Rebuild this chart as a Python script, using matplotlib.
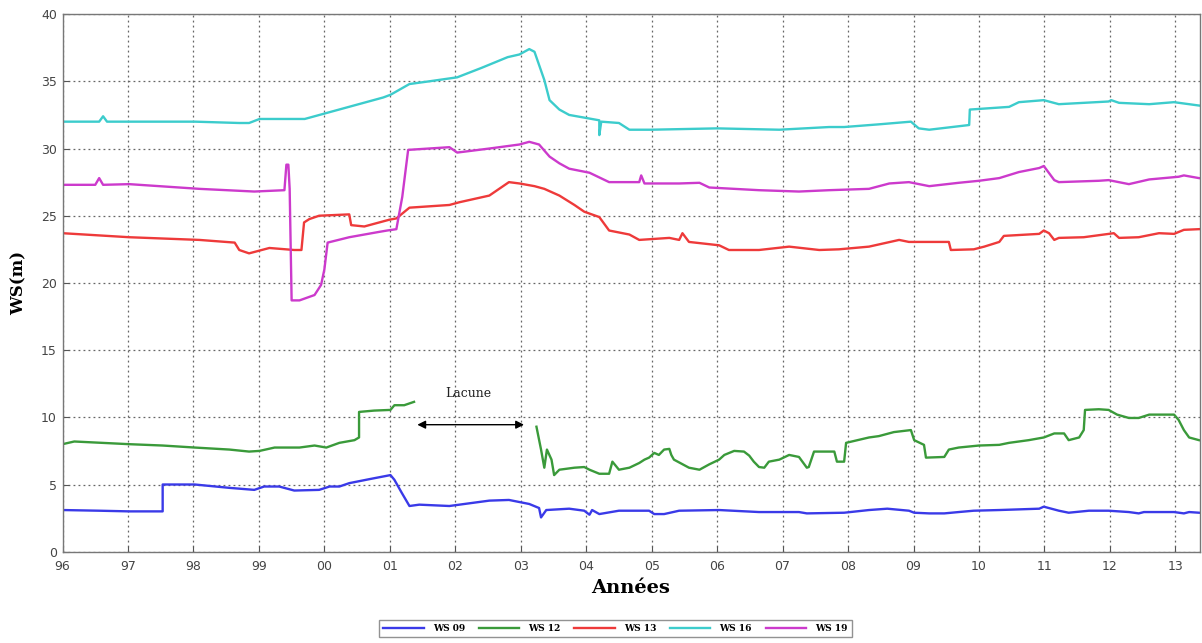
import matplotlib
matplotlib.use("Agg")
import matplotlib.pyplot as plt

# Time axis: years since start of 1996
xtick_labels = ["96", "97", "98", "99", "00", "01", "02", "03", "04", "05",
                "06", "07", "08", "09", "10", "11", "12", "13"]

ws09_t = [0, 0.56, 1.02, 1.53, 1.53, 2.02, 2.55, 2.93, 3.08, 3.31, 3.54, 3.92, 4.08, 4.23, 4.38, 4.69,
          5.01, 5.07, 5.18, 5.30, 5.45, 5.91, 6.52, 6.82, 7.13, 7.28, 7.31, 7.39, 7.74, 7.97, 8.05, 8.09,
          8.20, 8.50, 8.96, 9.04, 9.19, 9.42, 10.03, 10.64, 11.25, 11.37, 11.94, 12.32, 12.60, 12.93,
          13.01, 13.24, 13.47, 13.69, 13.92, 14.31, 14.92, 14.99, 15.22, 15.37, 15.68, 15.98, 16.29,
          16.44, 16.52, 16.98, 17.13, 17.21, 17.36]
ws09_v = [3.1, 3.05, 3.0, 3.0, 5.0, 5.0, 4.75, 4.6, 4.85, 4.85, 4.55, 4.6, 4.85, 4.85, 5.1, 5.4,
          5.7, 5.35, 4.4, 3.4, 3.5, 3.4, 3.8, 3.85, 3.55, 3.25, 2.55, 3.1, 3.2, 3.05, 2.75, 3.1,
          2.8, 3.05, 3.05, 2.8, 2.8, 3.05, 3.1, 2.95, 2.95, 2.85, 2.9, 3.1, 3.2, 3.05,
          2.9, 2.85, 2.85, 2.95, 3.05, 3.1, 3.2, 3.35, 3.05, 2.9, 3.05, 3.05, 2.95,
          2.85, 2.95, 2.95, 2.85, 2.95, 2.9]

# WS 12 before the gap ("Lacune")
ws12a_t = [0, 0.18, 1.02, 1.53, 2.02, 2.55, 2.85, 3.01, 3.24, 3.62, 3.85, 4.03, 4.23, 4.46, 4.53,
           4.53, 4.76, 5.01, 5.07, 5.22, 5.37]
ws12a_v = [8.0, 8.2, 8.0, 7.9, 7.75, 7.6, 7.45, 7.5, 7.75, 7.75, 7.9, 7.75, 8.1, 8.3, 8.5,
           10.4, 10.5, 10.55, 10.9, 10.9, 11.15]
# WS 12 after the gap
ws12b_t = [7.24, 7.31, 7.36, 7.40, 7.47, 7.51, 7.59, 7.82, 7.97, 8.05, 8.20, 8.35, 8.40, 8.50, 8.66,
           8.81, 8.89, 8.96, 9.04, 9.11, 9.19, 9.27, 9.30, 9.34, 9.57, 9.73, 9.88, 10.03, 10.11,
           10.26, 10.41, 10.49, 10.56, 10.64, 10.72, 10.79, 10.95, 11.10, 11.25, 11.37, 11.40,
           11.48, 11.79, 11.83, 11.94, 11.97, 12.32, 12.47, 12.70, 12.96, 13.01, 13.16, 13.19,
           13.47, 13.54, 13.69, 14.0, 14.31, 14.46, 14.76, 14.99, 15.15, 15.30, 15.37, 15.53,
           15.60, 15.62, 15.83, 15.98, 16.11, 16.29, 16.44, 16.60, 16.98, 17.05, 17.13, 17.21, 17.36]
ws12b_v = [9.3, 7.6, 6.25, 7.6, 6.85, 5.7, 6.1, 6.25, 6.3, 6.1, 5.8, 5.8, 6.7, 6.1, 6.25,
           6.6, 6.85, 7.0, 7.35, 7.2, 7.6, 7.65, 7.2, 6.85, 6.25, 6.1, 6.5, 6.85, 7.2,
           7.5, 7.45, 7.15, 6.7, 6.3, 6.25, 6.7, 6.85, 7.2, 7.05, 6.25, 6.3,
           7.45, 7.45, 6.7, 6.7, 8.1, 8.5, 8.6, 8.9, 9.05, 8.3, 7.95, 7.0,
           7.05, 7.6, 7.75, 7.9, 7.95, 8.1, 8.3, 8.5, 8.8, 8.8, 8.3, 8.5,
           9.05, 10.55, 10.6, 10.55, 10.2, 9.95, 9.95, 10.2, 10.2, 9.8, 9.05, 8.5, 8.3]

ws13_t = [0, 1.02, 2.09, 2.63, 2.70, 2.85, 3.16, 3.54, 3.65, 3.69, 3.77, 3.92, 4.38, 4.41, 4.61,
          4.99, 5.10, 5.30, 5.91, 6.06, 6.52, 6.82, 6.98, 7.21, 7.36, 7.59, 7.82, 7.97, 8.20, 8.35,
          8.66, 8.81, 9.27, 9.42, 9.47, 9.57, 10.03, 10.18, 10.64, 11.10, 11.56, 11.86, 12.32,
          12.78, 12.93, 13.54, 13.57, 13.92, 14.08, 14.31, 14.38, 14.92, 14.99, 15.07, 15.15,
          15.22, 15.60, 16.06, 16.14, 16.44, 16.75, 16.98, 17.13, 17.36]
ws13_v = [23.7, 23.4, 23.2, 23.0, 22.45, 22.2, 22.6, 22.45, 22.45, 24.5, 24.75, 25.0, 25.1, 24.3, 24.2,
          24.7, 24.8, 25.6, 25.8, 26.0, 26.5, 27.5, 27.4, 27.2, 27.0, 26.5, 25.8, 25.3, 24.9, 23.9,
          23.6, 23.2, 23.35, 23.2, 23.7, 23.05, 22.8, 22.45, 22.45, 22.7, 22.45, 22.5, 22.7,
          23.2, 23.05, 23.05, 22.45, 22.5, 22.7, 23.05, 23.5, 23.65, 23.9, 23.7, 23.2,
          23.35, 23.4, 23.7, 23.35, 23.4, 23.7, 23.65, 23.95, 24.0]

ws16_t = [0, 0.56, 0.62, 0.68, 1.02, 2.02, 2.70, 2.85, 3.01, 3.70, 4.30, 4.90, 5.01, 5.30, 5.60,
          6.03, 6.40, 6.80, 6.98, 7.13, 7.21, 7.36, 7.44, 7.59, 7.74, 8.20, 8.20, 8.23, 8.50,
          8.66, 8.99, 10.0, 10.95, 11.71, 11.94, 12.47, 12.96, 13.08, 13.24, 13.85, 13.86,
          14.46, 14.61, 14.99, 15.22, 15.98, 16.02, 16.14, 16.60, 16.98, 17.36]
ws16_v = [32.0, 32.0, 32.4, 32.0, 32.0, 32.0, 31.9, 31.9, 32.2, 32.2, 33.0, 33.8, 34.0, 34.8, 35.0,
          35.3, 36.0, 36.8, 37.0, 37.4, 37.2, 35.1, 33.6, 32.9, 32.5, 32.1, 31.0, 32.0, 31.9,
          31.4, 31.4, 31.5, 31.4, 31.6, 31.6, 31.8, 32.0, 31.5, 31.4, 31.75, 32.9,
          33.1, 33.45, 33.6, 33.3, 33.5, 33.6, 33.4, 33.3, 33.45, 33.2]

ws19_t = [0, 0.50, 0.56, 0.62, 1.02, 2.09, 2.93, 3.39, 3.42, 3.45, 3.47, 3.50, 3.62, 3.85, 3.95,
          4.0, 4.05, 4.38, 4.84, 4.96, 5.10, 5.19, 5.28, 5.91, 6.03, 6.52, 6.98, 7.13, 7.28, 7.44,
          7.59, 7.74, 8.05, 8.35, 8.81, 8.84, 8.89, 9.42, 9.73, 9.88, 10.64, 11.25, 11.71, 12.32,
          12.63, 12.93, 13.24, 13.69, 14.0, 14.31, 14.61, 14.92, 14.99, 15.15, 15.22, 15.83,
          15.98, 16.29, 16.60, 17.05, 17.13, 17.36]
ws19_v = [27.3, 27.3, 27.8, 27.3, 27.35, 27.0, 26.8, 26.9, 28.8, 28.8, 27.0, 18.7, 18.7, 19.1, 19.85,
          21.0, 23.0, 23.4, 23.8, 23.9, 24.0, 26.4, 29.9, 30.1, 29.7, 30.0, 30.3, 30.5, 30.3, 29.4,
          28.9, 28.5, 28.2, 27.5, 27.5, 28.0, 27.4, 27.4, 27.45, 27.1, 26.9, 26.8, 26.9, 27.0,
          27.4, 27.5, 27.2, 27.45, 27.6, 27.8, 28.25, 28.55, 28.7, 27.65, 27.5, 27.6,
          27.65, 27.35, 27.7, 27.9, 28.0, 27.8]

labels = ["WS 09", "WS 12", "WS 13", "WS 16", "WS 19"]
colors = ["#3a3ae8", "#3a9a3a", "#ee3a3a", "#3ccccc", "#cc3acc"]

fig = plt.figure(figsize=(12.02, 6.43), dpi=100)
ax = fig.add_axes([0.052, 0.142, 0.946, 0.836])

lw = 1.7
l09, = ax.plot(ws09_t, ws09_v, color=colors[0], lw=lw, label=labels[0])
l12, = ax.plot(ws12a_t, ws12a_v, color=colors[1], lw=lw, label=labels[1])
ax.plot(ws12b_t, ws12b_v, color=colors[1], lw=lw)
l13, = ax.plot(ws13_t, ws13_v, color=colors[2], lw=lw, label=labels[2])
l16, = ax.plot(ws16_t, ws16_v, color=colors[3], lw=lw, label=labels[3])
l19, = ax.plot(ws19_t, ws19_v, color=colors[4], lw=lw, label=labels[4])

# Lacune annotation
ax.annotate("", xy=(5.42, 9.45), xytext=(7.05, 9.45),
            arrowprops=dict(arrowstyle="<|-|>", color="black", lw=1.0,
                            mutation_scale=12, shrinkA=0, shrinkB=0))
ax.text(6.2, 11.3, "Lacune", ha="center", va="bottom", fontsize=9,
        family="DejaVu Serif", color="#222222")

ax.set_xlim(0, 17.37)
ax.set_ylim(0, 40)
ax.set_xticks(range(len(xtick_labels)))
ax.set_xticklabels(xtick_labels)
ax.set_yticks(range(0, 41, 5))
ax.tick_params(direction="in", length=4, labelsize=9, labelcolor="#444444",
               color="#555555")
ax.tick_params(axis="x", pad=6)
ax.tick_params(axis="y", pad=4)
ax.grid(True, linestyle=(0, (1.5, 2.5)), color="#666666", lw=0.9)
for s in ax.spines.values():
    s.set_color("#777777")
    s.set_linewidth(1.0)

ax.set_xlabel("Années", fontsize=14, fontweight="bold", family="DejaVu Serif", labelpad=4)
ax.set_ylabel("WS(m)", fontsize=12, fontweight="bold", family="DejaVu Serif", labelpad=10)

leg = fig.legend(handles=[l09, l12, l13, l16, l19], loc="center",
                 bbox_to_anchor=(0.512, 0.0225), ncol=5, frameon=True,
                 prop={"family": "DejaVu Serif", "weight": "bold", "size": 6.5},
                 handlelength=4.5, columnspacing=1.5, handletextpad=1.0,
                 fancybox=False, borderpad=0.45)
leg.get_frame().set_edgecolor("#777777")
leg.get_frame().set_linewidth(1.0)

fig.savefig("out.png", dpi=100)
